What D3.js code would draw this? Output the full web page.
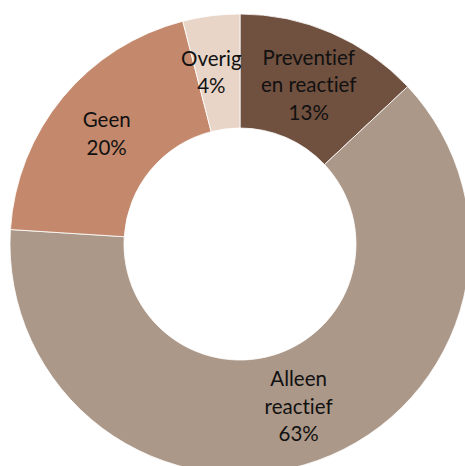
<!DOCTYPE html>
<html><head><meta charset="utf-8">
<script src="https://cdn.jsdelivr.net/npm/d3@7"></script>
<style>body{margin:0;background:#fff}svg{display:block}</style>
</head><body>
<svg id="c" width="465" height="466"></svg>
<script>
const categories = ["Preventief en reactief", "Alleen reactief", "Geen", "Overig"];
const labelLines = [["Preventief","en reactief"],["Alleen","reactief"],["Geen"],["Overig"]];
const values = [13, 63, 20, 4];
const colors = ["#70503F", "#AC9889", "#C4896C", "#E8D5C8"];

const W = 465, H = 466, cx = 240, cy = 244, R = 230, r = 116, LR = 173;
const labelNudge = {"Overig": -7};
const svg = d3.select("#c");
const g = svg.append("g").attr("transform", `translate(${cx},${cy})`);
const data = categories.map((c,i)=>({c, v: values[i], lines: labelLines[i], col: colors[i]}));
const pie = d3.pie().value(d=>d.v).sort(null);
const arc = d3.arc().innerRadius(r).outerRadius(R);
const labelArc = d3.arc().innerRadius(LR).outerRadius(LR);
const arcs = pie(data);
g.selectAll("path").data(arcs).join("path")
  .attr("d", arc).attr("fill", d=>d.data.col)
  .attr("stroke", "#fff").attr("stroke-width", 0.8);
const lh = 27.5;
const lab = g.selectAll("text").data(arcs).join("text")
  .attr("transform", d=>{const [x,y]=labelArc.centroid(d); return `translate(${x+(labelNudge[d.data.c]||0)},${y})`;})
  .attr("text-anchor","middle")
  .style("font-family","Lato, 'Open Sans', sans-serif")
  .style("font-variant-ligatures","none")
  .style("font-size","20.5px").attr("fill","#111");
lab.each(function(d){
  const lines = d.data.lines.concat([d.data.v + "%"]);
  const n = lines.length;
  const t = d3.select(this);
  lines.forEach((l,i)=>{
    t.append("tspan").attr("x",0).attr("y", (i-(n-1)/2)*lh).attr("dy","0.35em").text(l);
  });
});
</script>
</body></html>
